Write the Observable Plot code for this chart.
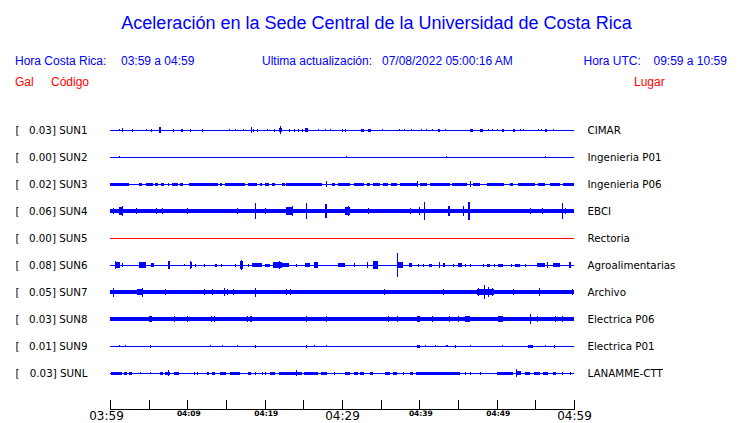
<!DOCTYPE html>
<html><head><meta charset="utf-8">
<script src="https://cdn.jsdelivr.net/npm/d3@7"></script>
<script src="https://cdn.jsdelivr.net/npm/@observablehq/plot@0.6"></script>
<style>
body{margin:0;background:#fff;}
#page{position:relative;width:740px;height:423px;overflow:hidden;font-family:"Liberation Sans",Arial,sans-serif;background:#fff;}
.t{position:absolute;white-space:pre;line-height:1;}
.hdr{font-size:12px;color:#0000ff;top:55px;}
.red{font-size:12px;color:#ff0000;top:75.5px;}
#title{font-size:18px;color:#0000ff;top:14px;left:376.5px;transform:translateX(-50%);line-height:18px;}
#chart{position:absolute;left:0;top:100px;}
</style></head>
<body><div id="page"><div id="chart"></div></div>
<script>
// ---- texts ----
const titulo = "Aceleración en la Sede Central de la Universidad de Costa Rica";
const horaCR = "03:59 a 04:59";
const actualizacion = "07/08/2022 05:00:16 AM";
const horaUTC = "09:59 a 10:59";

// ---- stations ----
const stations = ["SUN1","SUN2","SUN3","SUN4","SUN5","SUN6","SUN7","SUN8","SUN9","SUNL"];
const peaks    = ["0.03","0.00","0.02","0.06","0.00","0.08","0.05","0.03","0.01","0.03"];
const places   = ["CIMAR","Ingenieria P01","Ingenieria P06","EBCI","Rectoria","Agroalimentarias","Archivo","Electrica P06","Electrica P01","LANAMME-CTT"];
const status   = ["ok","ok","ok","ok","sin datos","ok","ok","ok","ok","ok"];
// continuous background amplitude (gal)
const baseAmp  = [0,0,0,0.013,0,0,0.012,0.013,0,0];

// ---- x axis (minutes after 03:59) ----
const tickMinutes = [0,5,10,15,20,25,30,35,40,45,50,55,60];
const firstTick = [0];
const firstLabel = ["03:59"];
const bigTicks = [30,60];
const bigLabels = ["04:29","04:59"];
const smallTicks = [10,20,40,50];
const smallLabels = ["04:09","04:19","04:39","04:49"];

// ---- amplitude envelopes: [start min, end min, half amplitude gal] ----
const sun1 = [[1.1,1.1,0.007],[1.5,1.6,0.013],[2.8,2.8,0.01],[4.6,4.6,0.007],[5.3,5.3,0.01],[6.4,6.6,0.02],[8.1,8.1,0.01],[9.2,9.4,0.01],[10.4,10.4,0.01],[11.9,11.9,0.01],[15.4,15.4,0.007],[16.1,16.1,0.005],[17.2,17.2,0.007],[18.2,18.2,0.02],[18.5,18.6,0.01],[19.0,19.0,0.01],[20.3,20.3,0.007],[21.2,21.3,0.01],[21.8,22.3,0.013],[22.0,22.1,0.027],[23.1,23.2,0.01],[23.8,23.8,0.01],[24.3,24.4,0.01],[24.8,24.8,0.01],[25.2,25.6,0.013],[26.9,26.9,0.007],[27.8,27.8,0.005],[28.4,28.4,0.005],[30.0,30.0,0.01],[30.4,30.4,0.01],[32.5,32.8,0.01],[33.3,33.8,0.01],[35.2,35.2,0.007],[37.4,37.4,0.007],[38.0,38.0,0.007],[38.9,38.9,0.007],[40.2,40.2,0.007],[40.9,40.9,0.007],[41.7,41.7,0.007],[42.4,42.7,0.01],[43.3,43.3,0.007],[46.5,47.0,0.01],[47.8,48.2,0.01],[48.9,48.9,0.007],[49.4,49.4,0.007],[50.0,50.0,0.007],[50.7,51.0,0.01],[52.1,52.4,0.01],[53.0,53.0,0.007],[53.4,53.4,0.007],[55.3,55.3,0.007],[55.7,55.7,0.007],[56.2,56.5,0.01],[57.3,57.3,0.007]];
const sun2 = [[1.1,1.1,0.005],[30.5,30.5,0.005],[43.4,43.4,0.005],[56.2,56.2,0.005]];
const sun3 = [[0,2.5,0.01],[3.7,4.1,0.01],[4.7,5.6,0.01],[5.8,6.2,0.01],[6.6,7.0,0.01],[7.5,7.5,0.01],[8.0,8.8,0.01],[9.1,9.5,0.01],[10.2,14.0,0.01],[14.2,14.5,0.01],[14.9,17.5,0.01],[17.9,19.0,0.01],[19.4,19.7,0.01],[20.0,20.5,0.01],[20.9,21.4,0.01],[22.2,22.6,0.01],[22.8,27.4,0.01],[27.9,27.9,0.02],[28.7,29.1,0.01],[29.5,31.0,0.01],[31.5,32.8,0.01],[33.2,33.6,0.01],[34.0,34.9,0.01],[35.3,36.0,0.01],[36.4,37.1,0.01],[37.5,39.7,0.01],[39.7,39.7,0.017],[40.1,41.0,0.01],[41.4,44.0,0.01],[44.2,46.1,0.01],[46.5,46.5,0.02],[47.0,47.8,0.01],[48.7,50.9,0.01],[51.7,52.1,0.01],[52.8,55.0,0.01],[55.4,56.2,0.01],[56.9,58.2,0.01],[58.6,60,0.01]];
const sun4 = [[0.4,0.4,0.017],[1.1,1.7,0.027],[1.6,1.6,0.033],[3.4,3.4,0.023],[6.0,6.0,0.017],[6.7,6.9,0.02],[10.0,10.0,0.017],[11.9,11.9,0.015],[16.4,16.4,0.02],[18.7,18.7,0.053],[20.0,20.0,0.02],[22.8,23.7,0.027],[23.5,23.5,0.033],[25.3,25.3,0.053],[27.8,28.0,0.047],[30.4,31.0,0.027],[30.8,30.8,0.033],[33.4,33.4,0.017],[36.0,36.0,0.015],[38.8,38.8,0.017],[39.9,40.1,0.027],[40.6,40.6,0.06],[43.7,44.0,0.033],[45.7,45.7,0.033],[46.3,46.5,0.06],[50.6,50.6,0.015],[54.3,54.3,0.02],[55.8,55.8,0.017],[58.5,58.5,0.053],[58.8,59.0,0.02]];
const sun5 = [];
const sun6 = [[0.6,1.3,0.017],[0.7,0.7,0.027],[1.6,1.6,0.013],[3.8,4.6,0.017],[5.3,5.7,0.013],[7.5,7.8,0.027],[9.6,9.6,0.007],[10.3,10.6,0.023],[10.3,10.3,0.027],[11.0,11.0,0.01],[12.1,12.1,0.01],[13.6,13.9,0.01],[14.3,14.3,0.01],[16.2,16.2,0.01],[16.8,17.2,0.027],[16.9,16.9,0.033],[17.9,17.9,0.01],[18.3,19.6,0.013],[20.0,20.7,0.01],[21.1,22.2,0.017],[21.8,21.8,0.027],[22.3,23.1,0.013],[24.1,24.1,0.01],[25.2,25.9,0.013],[26.4,26.9,0.017],[29.5,30.4,0.013],[31.5,31.7,0.013],[33.2,33.4,0.023],[34.0,34.7,0.027],[37.1,37.1,0.08],[37.3,37.9,0.017],[38.6,39.0,0.013],[39.8,39.8,0.01],[40.5,40.5,0.01],[41.2,41.6,0.01],[42.5,42.5,0.017],[43.1,43.3,0.013],[44.4,44.4,0.01],[45.0,45.5,0.013],[45.9,45.9,0.01],[46.5,46.5,0.01],[48.2,48.2,0.01],[48.7,49.1,0.01],[49.7,49.7,0.01],[50.2,50.8,0.01],[51.8,51.8,0.01],[52.4,53.0,0.01],[53.6,53.6,0.01],[55.2,56.2,0.013],[56.5,56.5,0.017],[57.3,58.2,0.013],[59.3,59.6,0.017]];
const sun7 = [[0,1.1,0.013],[0.4,0.4,0.03],[3.5,4.3,0.017],[4.2,4.2,0.03],[7.1,7.1,0.02],[12.2,12.2,0.023],[13.2,13.2,0.017],[14.7,14.7,0.027],[15.1,15.1,0.02],[15.9,15.9,0.017],[18.8,18.8,0.03],[22.8,22.8,0.02],[23.3,23.3,0.017],[35.4,35.4,0.017],[43.1,43.1,0.02],[47.4,49.6,0.02],[47.6,47.6,0.027],[48.3,48.3,0.047],[48.9,48.9,0.033],[49.4,49.4,0.027],[52.1,52.1,0.017],[55.5,55.5,0.027],[59.7,59.7,0.02]];
const sun8 = [[5.0,5.4,0.02],[8.3,8.3,0.017],[10.0,10.0,0.017],[13.0,13.0,0.017],[13.4,13.4,0.017],[17.7,17.7,0.017],[18.1,18.3,0.023],[25.4,25.4,0.023],[27.9,27.9,0.017],[36.0,36.0,0.017],[37.1,37.1,0.017],[39.7,40.1,0.02],[41.7,41.7,0.017],[43.9,43.9,0.017],[45.0,45.0,0.017],[45.9,46.5,0.02],[50.2,50.8,0.02],[54.3,54.5,0.033],[55.2,55.2,0.017],[57.5,57.5,0.017],[58.4,58.4,0.017]];
const sun9 = [[1.1,1.1,0.007],[2.0,2.0,0.007],[5.2,5.2,0.01],[12.9,12.9,0.007],[14.5,14.5,0.007],[16.4,16.4,0.007],[18.8,18.8,0.01],[25.4,25.4,0.01],[26.4,26.4,0.007],[27.9,27.9,0.007],[39.7,40.1,0.01],[40.7,40.7,0.007],[42.0,42.0,0.007],[43.4,43.7,0.007],[44.6,44.8,0.01],[46.5,46.5,0.007],[50.7,50.7,0.007],[54.1,54.7,0.01],[56.2,56.2,0.007],[57.4,57.4,0.01]];
const sunL = [[0.1,1.6,0.01],[1.8,2.2,0.01],[2.5,2.8,0.01],[3.9,3.9,0.007],[5.2,5.2,0.007],[6.5,6.9,0.01],[7.1,7.8,0.01],[7.5,7.5,0.02],[8.3,8.9,0.01],[10.8,10.8,0.01],[11.2,11.2,0.01],[12.5,12.8,0.01],[13.2,13.6,0.01],[14.2,15.0,0.01],[15.5,16.8,0.01],[17.8,18.2,0.01],[18.7,18.7,0.01],[19.6,19.6,0.01],[20.0,20.0,0.01],[20.7,21.3,0.01],[21.8,24.8,0.01],[24.1,24.1,0.017],[25.1,26.9,0.01],[27.3,28.1,0.01],[29.0,29.0,0.01],[30.4,31.0,0.01],[31.5,32.1,0.01],[32.3,32.8,0.01],[33.6,34.0,0.01],[35.6,36.2,0.01],[36.6,37.1,0.01],[37.9,37.9,0.01],[38.8,39.2,0.01],[39.6,45.3,0.01],[45.9,45.9,0.01],[46.5,46.5,0.01],[47.8,47.8,0.01],[50.0,52.1,0.01],[52.5,52.5,0.027],[52.6,53.2,0.013],[53.7,54.3,0.01],[54.8,55.6,0.01],[56.0,56.7,0.01],[57.3,57.7,0.01],[58.5,58.5,0.01],[59.5,59.5,0.01]];
const envelopes = [sun1,sun2,sun3,sun4,sun5,sun6,sun7,sun8,sun9,sunL];

// ---- header (HTML above the SVG) ----
const page = document.getElementById("page");
function addText(txt, cls, left, extra) {
  const d = document.createElement("div");
  d.className = "t " + cls;
  if (left !== null) d.style.left = left + "px";
  if (extra) d.id = extra;
  d.textContent = txt;
  page.appendChild(d);
}
addText(titulo, "", null, "title");
addText("Hora Costa Rica:", "hdr", 15);
addText(horaCR, "hdr", 121);
addText("Ultima actualización:", "hdr", 262);
addText(actualizacion, "hdr", 382);
addText("Hora UTC:", "hdr", 583.5);
addText(horaUTC, "hdr", 653.5);
addText("Gal", "red", 15);
addText("Código", "red", 51);
addText("Lugar", "red", 634);

// ---- chart ----
const galToRow = 150 / 27; // vertical gain: rows per gal
const colorOf = s => s === "ok" ? "#0000ff" : "#ff0000";
const rows = stations.map((code, i) => ({i, code, peak: peaks[i], place: places[i], color: colorOf(status[i]), base: baseAmp[i]}));
const segs = [];
rows.forEach(r => { if (r.base > 0) segs.push({i: r.i, t0: 0, t1: 60, a: r.base, color: r.color}); });
envelopes.forEach((list, i) => list.forEach(([t0, t1, a]) =>
  segs.push({i, t0, t1: Math.max(t1, t0 + 0.13), a, color: rows[i].color})));

const W = 740, H = 323, mB = 14;
const chart = Plot.plot({
  width: W, height: H, marginTop: 0, marginBottom: mB, marginLeft: 110, marginRight: 166,
  x: {domain: [0, 60], axis: null},
  y: {domain: [0, 9], range: [30, 273], axis: null},
  color: {type: "identity"},
  style: {fontFamily: "'DejaVu Sans', sans-serif", background: "white", overflow: "visible", color: "black"},
  marks: [
    Plot.ruleY(rows, {y: "i", x1: 0, x2: 60, stroke: "color", shapeRendering: "crispEdges"}),
    Plot.rect(segs, {x1: "t0", x2: "t1", y1: d => d.i - d.a * galToRow, y2: d => d.i + d.a * galToRow, fill: "color", shapeRendering: "crispEdges"}),
    Plot.text(rows, {y: "i", frameAnchor: "left", dx: -95, text: () => "[", textAnchor: "start", fontSize: 10.3}),
    Plot.text(rows, {y: "i", frameAnchor: "left", dx: -23, text: d => `${d.peak}] ${d.code}`, textAnchor: "end", fontSize: 10.3}),
    Plot.text(rows, {y: "i", frameAnchor: "right", dx: 13, text: "place", textAnchor: "start", fontSize: 10.3}),
    Plot.frame({anchor: "bottom", shapeRendering: "crispEdges"}),
    Plot.ruleX(tickMinutes, {x: d => d, insetTop: H - mB - 9, shapeRendering: "crispEdges"}),
    Plot.axisX(firstTick, {tickSize: 0, tickPadding: 2, dx: -4, tickFormat: d => firstLabel[firstTick.indexOf(d)], fontSize: 12, label: null}),
    Plot.axisX(bigTicks, {tickSize: 0, tickPadding: 2, tickFormat: d => bigLabels[bigTicks.indexOf(d)], fontSize: 12, label: null}),
    Plot.axisX(smallTicks, {tickSize: 0, tickPadding: 1.5, dx: 1, tickFormat: d => smallLabels[smallTicks.indexOf(d)], fontSize: 7.5, fontWeight: "bold", label: null})
  ]
});
document.getElementById("chart").appendChild(chart);
</script>
</body></html>
